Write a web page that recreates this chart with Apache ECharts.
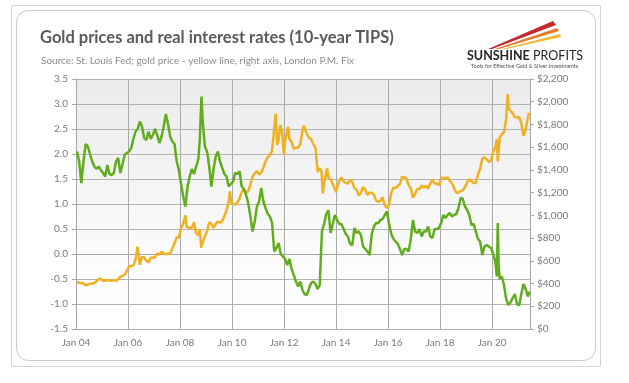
<!DOCTYPE html>
<html><head><meta charset="utf-8">
<script src="https://cdn.jsdelivr.net/npm/echarts@6/dist/echarts.min.js"></script>
<style>html,body{margin:0;padding:0;background:#fff}#c{width:629px;height:383px}</style>
</head><body><div id="c"></div><script>
// 10-year TIPS real yield (%), left axis
const realRate = [
['2004-01',2.05],['2004-02',1.85],['2004-03',1.42],['2004-04',1.85],['2004-05',2.2],['2004-06',2.15],['2004-07',2.0],['2004-08',1.85],['2004-09',1.75],['2004-10',1.7],['2004-11',1.75],['2004-12',1.68],
['2005-01',1.62],['2005-02',1.55],['2005-03',1.78],['2005-04',1.6],['2005-05',1.58],['2005-06',1.62],['2005-07',1.85],['2005-08',1.92],['2005-09',1.62],['2005-10',1.8],['2005-11',1.98],['2005-12',2.02],
['2006-01',2.05],['2006-02',2.12],['2006-03',2.3],['2006-04',2.45],['2006-05',2.5],['2006-06',2.65],['2006-07',2.55],['2006-08',2.32],['2006-09',2.28],['2006-10',2.45],['2006-11',2.3],['2006-12',2.38],
['2007-01',2.5],['2007-02',2.38],['2007-03',2.22],['2007-04',2.35],['2007-05',2.55],['2007-06',2.8],['2007-07',2.6],['2007-08',2.35],['2007-09',2.25],['2007-10',2.2],['2007-11',1.85],['2007-12',1.68],
['2008-01',1.4],['2008-02',1.15],['2008-03',0.95],['2008-04',1.35],['2008-05',1.55],['2008-06',1.7],['2008-07',1.6],['2008-08',1.75],['2008-09',1.9],['2008-10-05',2.3],['2008-10-28',3.15],['2008-11-15',2.65],['2008-12',2.15],
['2009-01',2.05],['2009-02',1.75],['2009-03',1.35],['2009-04',1.7],['2009-05',1.95],['2009-06',2.05],['2009-07',1.85],['2009-08',1.72],['2009-09',1.6],['2009-10',1.55],['2009-11',1.35],['2009-12',1.4],
['2010-01',1.45],['2010-02',1.62],['2010-03',1.6],['2010-04',1.65],['2010-05',1.35],['2010-06',1.3],['2010-07',1.18],['2010-08',1.02],['2010-09',0.75],['2010-10',0.45],['2010-11',0.65],['2010-12',0.95],
['2011-01',1.05],['2011-02',1.32],['2011-03',1.05],['2011-04',0.92],['2011-05',0.8],['2011-06',0.75],['2011-07',0.62],['2011-08',0.05],['2011-09',0.12],['2011-10',0.22],['2011-11',0.0],['2011-12',-0.05],
['2012-01',-0.1],['2012-02',-0.22],['2012-03',-0.1],['2012-04',-0.3],['2012-05',-0.42],['2012-06',-0.55],['2012-07',-0.65],['2012-08',-0.55],['2012-09',-0.72],['2012-10',-0.8],['2012-11',-0.82],['2012-12',-0.7],
['2013-01',-0.58],['2013-02',-0.55],['2013-03',-0.6],['2013-04',-0.7],['2013-05',-0.62],['2013-06',0.45],['2013-07',0.6],['2013-08',0.8],['2013-09',0.88],['2013-10',0.42],['2013-11',0.6],['2013-12',0.78],
['2014-01',0.68],['2014-02',0.6],['2014-03',0.6],['2014-04',0.5],['2014-05',0.4],['2014-06',0.35],['2014-07',0.2],['2014-08',0.18],['2014-09',0.52],['2014-10',0.42],['2014-11',0.45],['2014-12',0.38],
['2015-01',0.15],['2015-02',0.1],['2015-03',0.05],['2015-04',-0.02],['2015-05',0.4],['2015-06',0.55],['2015-07',0.62],['2015-08',0.62],['2015-09',0.68],['2015-10',0.7],['2015-11',0.78],['2015-12',0.85],
['2016-01',0.6],['2016-02',0.4],['2016-03',0.3],['2016-04',0.25],['2016-05',0.2],['2016-06',0.1],['2016-07',-0.02],['2016-08',0.1],['2016-09',0.1],['2016-10',0.05],['2016-11',0.3],['2016-12',0.68],
['2017-01',0.45],['2017-02',0.42],['2017-03',0.5],['2017-04',0.35],['2017-05',0.45],['2017-06',0.45],['2017-07',0.55],['2017-08',0.35],['2017-09',0.32],['2017-10',0.5],['2017-11',0.5],['2017-12',0.52],
['2018-01',0.62],['2018-02',0.78],['2018-03',0.72],['2018-04',0.78],['2018-05',0.82],['2018-06',0.75],['2018-07',0.78],['2018-08',0.8],['2018-09',0.92],['2018-10',1.12],['2018-11',1.1],['2018-12',0.95],
['2019-01',0.88],['2019-02',0.78],['2019-03',0.58],['2019-04',0.6],['2019-05',0.45],['2019-06',0.3],['2019-07',0.25],['2019-08',-0.02],['2019-09',0.15],['2019-10',0.18],['2019-11',0.15],['2019-12',0.12],
['2020-01',0.0],['2020-02',-0.15],['2020-03-06',-0.45],['2020-03-19',0.62],['2020-04-01',-0.2],['2020-04-15',-0.5],['2020-05',-0.45],['2020-06',-0.62],['2020-07',-0.9],['2020-08',-1.02],['2020-09',-0.97],['2020-10',-0.88],['2020-11',-0.8],['2020-12',-1.0],
['2021-01',-1.03],['2021-02',-0.8],['2021-03',-0.6],['2021-04',-0.7],['2021-05',-0.85],['2021-06-12',-0.75]
];
// Gold price, London P.M. Fix (USD/oz), right axis
const goldPrice = [
['2004-01',415],['2004-02',405],['2004-03',405],['2004-04',400],['2004-05',385],['2004-06',392],['2004-07',398],['2004-08',400],['2004-09',405],['2004-10',420],['2004-11',440],['2004-12',442],
['2005-01',425],['2005-02',425],['2005-03',432],['2005-04',428],['2005-05',422],['2005-06',430],['2005-07',425],['2005-08',438],['2005-09',458],['2005-10',470],['2005-11',478],['2005-12',510],
['2006-01',550],['2006-02',555],['2006-03',560],['2006-04',610],['2006-05-01',680],['2006-05-12',725],['2006-06-01',640],['2006-06-14',567],['2006-07',635],['2006-08',630],['2006-09',600],['2006-10',585],['2006-11',628],['2006-12',630],
['2007-01',630],['2007-02',665],['2007-03',655],['2007-04',680],['2007-05',668],['2007-06',655],['2007-07',665],['2007-08',665],['2007-09',710],['2007-10',755],['2007-11',805],['2007-12',805],
['2008-01',890],['2008-02',925],['2008-03-05',975],['2008-03-17',1000],['2008-04-01',900],['2008-05',890],['2008-06',890],['2008-07',940],['2008-08',840],['2008-09',825],['2008-10-05',880],['2008-10-24',715],['2008-11-15',760],['2008-12',815],
['2009-01',860],['2009-02',940],['2009-03',925],['2009-04',890],['2009-05',925],['2009-06',945],['2009-07',935],['2009-08',950],['2009-09',995],['2009-10',1045],['2009-11',1125],['2009-12-02',1212],['2009-12-20',1110],
['2010-01',1115],['2010-02',1095],['2010-03',1115],['2010-04',1150],['2010-05',1205],['2010-06',1230],['2010-07',1195],['2010-08',1215],['2010-09',1270],['2010-10',1340],['2010-11',1370],['2010-12',1390],
['2011-01',1360],['2011-02',1375],['2011-03',1420],['2011-04',1475],['2011-05',1510],['2011-06',1530],['2011-07',1570],['2011-08',1760],['2011-09-05',1895],['2011-09-26',1620],['2011-10',1665],['2011-11-08',1795],['2011-12-01',1745],['2011-12-29',1531],
['2012-01',1655],['2012-02-28',1780],['2012-03',1670],['2012-04',1650],['2012-05',1585],['2012-06',1595],['2012-07',1595],['2012-08',1625],['2012-09',1745],['2012-10-04',1790],['2012-11',1720],['2012-12',1685],
['2013-01',1670],['2013-02',1630],['2013-03',1595],['2013-04-01',1590],['2013-04-16',1380],['2013-05',1415],['2013-06-10',1385],['2013-06-28',1192],['2013-07-15',1285],['2013-08-28',1415],['2013-09-15',1330],['2013-10',1315],['2013-11',1275],['2013-12-31',1205],
['2014-01',1245],['2014-02',1300],['2014-03',1335],['2014-04',1300],['2014-05',1285],['2014-06',1280],['2014-07',1310],['2014-08',1295],['2014-09',1240],['2014-10',1225],['2014-11',1175],['2014-12',1200],
['2015-01',1250],['2015-02',1225],['2015-03',1180],['2015-04',1200],['2015-05',1200],['2015-06',1180],['2015-07',1130],['2015-08',1120],['2015-09',1125],['2015-10',1160],['2015-11',1085],['2015-12',1065],
['2016-01',1095],['2016-02',1200],['2016-03',1245],['2016-04',1240],['2016-05',1260],['2016-06',1275],['2016-07',1340],['2016-08',1335],['2016-09',1325],['2016-10',1265],['2016-11',1240],['2016-12',1155],
['2017-01',1190],['2017-02',1235],['2017-03',1230],['2017-04',1265],['2017-05',1245],['2017-06',1260],['2017-07',1235],['2017-08',1280],['2017-09',1315],['2017-10',1280],['2017-11',1280],['2017-12',1265],
['2018-01',1330],['2018-02',1330],['2018-03',1325],['2018-04',1335],['2018-05',1305],['2018-06',1280],['2018-07',1240],['2018-08',1200],['2018-09',1200],['2018-10',1215],['2018-11',1220],['2018-12',1250],
['2019-01',1290],['2019-02',1320],['2019-03',1300],['2019-04',1285],['2019-05',1285],['2019-06',1360],['2019-07',1410],['2019-08',1500],['2019-09',1510],['2019-10',1495],['2019-11',1470],['2019-12',1480],
['2020-01',1560],['2020-02',1600],['2020-03-06',1670],['2020-03-19',1474],['2020-04',1680],['2020-05',1715],['2020-06',1730],['2020-07',1845],['2020-08-06',2067],['2020-08-20',1940],['2020-09',1920],['2020-10',1900],['2020-11',1865],['2020-12',1860],
['2021-01',1865],['2021-02',1810],['2021-03',1700],['2021-04',1760],['2021-05-31',1900],['2021-06-12',1880]
];
const leftTicks = {min:-1.5, max:3.5, step:0.5};
const rightTicks = {min:0, max:2200, step:200};
const xStartYear = 2004, xEnd = '2021-06-15', xStepYears = 2;

function toYear(s){
  const p = s.split('-').map(Number);
  const d = p.length > 2 ? p[2] : 15;
  return p[0] + (p[1]-1)/12 + (d-1)/365;
}
const toXY = arr => arr.map(r => [toYear(r[0]), r[1]]);

const chart = echarts.init(document.getElementById('c'), null, {renderer:'canvas'});
const FONT = 'Lato, "Open Sans", sans-serif';
const labelStyle = {color:'#7a7a7a', fontSize:10, fontFamily:FONT};
chart.setOption({
  animation:false,
  backgroundColor:'#fff',
  title:[{
    text:'Gold prices and real interest rates (10-year TIPS)',
    left:35, top:24,
    textStyle:{fontSize:16.5, fontWeight:'bold', color:'#5a5a5a', fontFamily:FONT}
  },{
    text:'Source: St. Louis Fed; gold price - yellow line, right axis, London P.M. Fix',
    left:36, top:51,
    textStyle:{fontSize:10, fontWeight:'normal', color:'#8c8c8c', fontFamily:FONT}
  }],
  grid:{left:76, right:99, top:79, height:250, show:true, borderWidth:0,
    backgroundColor:new echarts.graphic.LinearGradient(0,0,0,1,[
      {offset:0,color:'#ebebeb'},{offset:0.75,color:'#fcfcfc'},{offset:1,color:'#ffffff'}])},
  xAxis:{type:'value', min:xStartYear, max:toYear(xEnd), interval:xStepYears,
    axisLine:{show:true, lineStyle:{color:'#a6a6a6', width:1}},
    axisTick:{show:false},
    splitLine:{show:true, lineStyle:{color:'#ababab', width:1}},
    axisLabel:{...labelStyle, margin:9, showMaxLabel:false,
      formatter:v => 'Jan ' + String(Math.round(v)).slice(2)}},
  yAxis:[{type:'value', position:'left', min:leftTicks.min, max:leftTicks.max, interval:leftTicks.step,
    axisLine:{show:true, lineStyle:{color:'#a6a6a6'}},
    axisTick:{show:true, length:4, lineStyle:{color:'#a6a6a6'}},
    splitLine:{show:true, lineStyle:{color:'#b3b3b3', width:1}},
    axisLabel:{...labelStyle, margin:8, formatter:v => v.toFixed(1)}},
  {type:'value', position:'right', min:rightTicks.min, max:rightTicks.max, interval:rightTicks.step,
    axisLine:{show:true, lineStyle:{color:'#a6a6a6'}},
    axisTick:{show:true, length:4, lineStyle:{color:'#a6a6a6'}},
    splitLine:{show:false},
    axisLabel:{...labelStyle, margin:7, formatter:v => '$' + v.toLocaleString('en-US')}}],
  series:[
    {type:'line', name:'Gold price', yAxisIndex:1, data:toXY(goldPrice), showSymbol:false, z:3,
      lineStyle:{color:'#efb122', width:2.5}},
    {type:'line', name:'10-year TIPS', yAxisIndex:0, data:toXY(realRate), showSymbol:false, z:4,
      lineStyle:{color:'#62ad1e', width:2.5}}
  ],
  graphic:[
    {type:'rect', shape:{x:11.5,y:5.5,width:589,height:361}, style:{fill:'none', stroke:'#d4d4d4', lineWidth:1}, z:-10},
    {type:'rect', shape:{x:16.5,y:10.5,width:579,height:350,r:12}, style:{fill:'none', stroke:'#c9c9c9', lineWidth:1}, z:-10},
    {type:'polygon', shape:{points:[[488,49],[553,21],[556,25],[492,49]]}, style:{fill:'#c22a2e'}},
    {type:'polygon', shape:{points:[[495,49],[557,28],[559,31],[499,49]]}, style:{fill:'#e7782a'}},
    {type:'polygon', shape:{points:[[502,49],[560,34],[561,37],[506,49]]}, style:{fill:'#f3b633'}},
    {type:'text', left:467, top:49, style:{text:'{a|SUNSHINE} {b|PROFITS}',
      rich:{a:{fontSize:12.5, fontWeight:'bold', fill:'#262626', fontFamily:FONT},
            b:{fontSize:12.5, fontWeight:'normal', fill:'#262626', fontFamily:FONT}}}},
    {type:'text', left:471, top:63, style:{text:'Tools for Effective Gold & Silver Investments', fontSize:5.5, fill:'#555', fontFamily:FONT}}
  ]
});
</script></body></html>
